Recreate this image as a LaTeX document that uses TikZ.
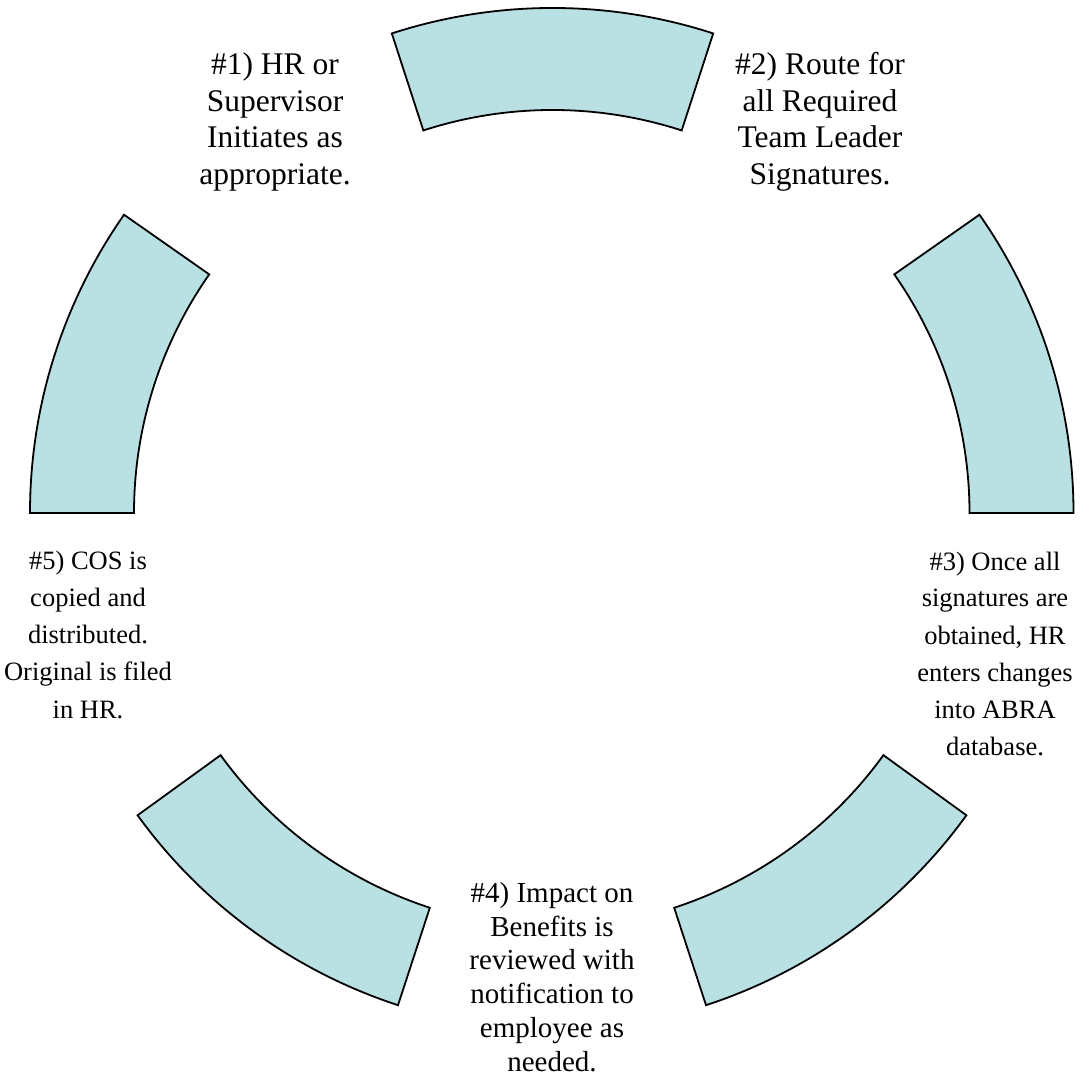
\documentclass[tikz,border=0pt]{standalone}
\usepackage{fontspec}
\setmainfont{Liberation Serif}
\definecolor{segfill}{RGB}{185,224,227}
\tikzset{
  segment/.style={draw=black, line width=1.8pt, fill=segfill, line join=miter},
  lbl/.style={align=center, inner sep=0pt, font=\fontsize{31.5}{36.5}\selectfont},
  lblmid/.style={align=center, inner sep=0pt, font=\fontsize{29}{33.7}\selectfont},
  lblsmall/.style={align=center, inner sep=0pt, font=\fontsize{26.5}{37}\selectfont}
}
% #1 centre x, #2 centre y, #3 outer r, #4 inner r, #5 start angle, #6 end angle
\newcommand{\blockarc}[6]{%
  \draw[segment] ([shift={(#5:#3pt)}]#1,#2) arc[start angle=#5, end angle=#6, radius=#3pt]
    -- ([shift={(#6:#4pt)}]#1,#2) arc[start angle=#6, end angle=#5, radius=#4pt] -- cycle;}
\begin{document}
\begin{tikzpicture}[x=1pt,y=1pt]
\useasboundingbox (0,0) rectangle (1091,1074);
% segments
\blockarc{552.5}{546}{520}{418}{72}{108}
\blockarc{550}{561}{520}{416}{145}{180}
\blockarc{553.5}{561}{520}{416}{0}{35}
\blockarc{544}{564.5}{521.5}{419}{-71.9}{-35.9}
\blockarc{560}{564.5}{521.5}{419}{-144.1}{-108.1}
% labels (base anchor = baseline of the last line)
\node[lbl, anchor=base] (t1) at (275,889.5) {\#1) HR or\\Supervisor\\Initiates as\\appropriate.};
\node[lbl, anchor=base] (t2) at (820,889.5) {\#2) Route for\\all Required\\Team Leader\\Signatures.};
\node[lblsmall, anchor=base] (t3) at (995,319) {\#3) Once all\\signatures are\\obtained, HR\\enters changes\\into ABRA\\database.};
\node[lblmid, anchor=base] (t4) at (552,3) {\#4) Impact on\\Benefits is\\reviewed with\\notification to\\employee as\\needed.};
\node[lblsmall, anchor=base] (t5) at (88,356) {\#5) COS is\\copied and\\distributed.\\Original is filed\\in HR.};
\end{tikzpicture}
\end{document}
